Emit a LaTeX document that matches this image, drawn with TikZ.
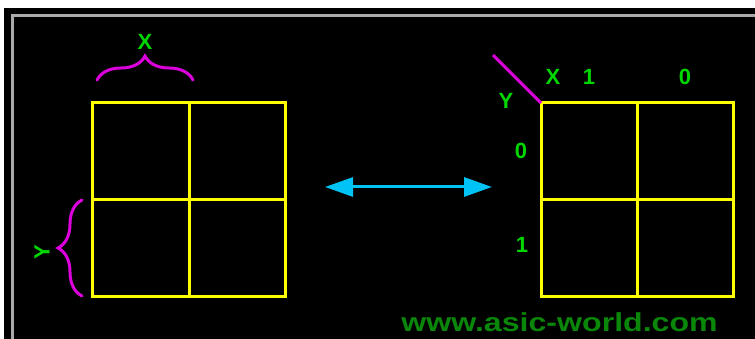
\documentclass[tikz,border=0pt]{standalone}
\usepackage{fontspec}
\setmainfont{Liberation Sans}
\usetikzlibrary{arrows.meta,decorations.pathreplacing}
\definecolor{lblgreen}{RGB}{0,215,0}
\definecolor{wmgreen}{RGB}{10,135,10}
\definecolor{kyellow}{RGB}{255,255,0}
\definecolor{kmag}{RGB}{220,0,220}
\definecolor{kcyan}{RGB}{0,195,245}
\definecolor{kgrey}{RGB}{170,170,170}
\tikzset{
  gridline/.style={draw=kyellow,line width=3pt},
  bracestyle/.style={draw=kmag,line width=3pt,line cap=round,decorate,decoration={brace,amplitude=#1}},
  lbl/.style={text=lblgreen,font=\bfseries\fontsize{22}{22}\selectfont,inner sep=0pt},
  arrowline/.style={draw=kcyan,line width=3pt,{Triangle[length=28pt,width=19pt]}-{Triangle[length=28pt,width=19pt]}}
}
\begin{document}
\begin{tikzpicture}[x=1pt,y=-1pt]
\useasboundingbox (0,0) rectangle (755,339);
\fill[white] (0,0) rectangle (755,339);
\fill[black] (4,8) rectangle (755,339);
\draw[kgrey,line width=3pt] (12,339) -- (12,16) -- (755,16);
% left K-map
\draw[gridline] (92,103) rectangle (285,296);
\draw[gridline] (189,103) -- (189,296);
\draw[gridline] (92,200) -- (285,200);
\draw[bracestyle=24pt] (97,80) -- (193,80);
\node[lbl] (xl) at (145,42) {X};
\draw[bracestyle=24pt] (82,296) -- (82,200);
\node[lbl,rotate=90] (yl) at (42,252) {Y};
% arrow
\coordinate (al) at (325,187);
\coordinate (ar) at (492,187);
\draw[arrowline] (al) -- (ar);
% right K-map
\draw[gridline] (541,103) rectangle (733,296);
\draw[gridline] (637,103) -- (637,296);
\draw[gridline] (541,200) -- (733,200);
\coordinate (dg1) at (493,55);
\coordinate (dg2) at (541,103);
\draw[kmag,line width=3pt] (dg1) -- (dg2);
\node[lbl] (xr) at (553,77) {X};
\node[lbl] (x1) at (589,77) {1};
\node[lbl] (x0) at (685,77) {0};
\node[lbl] (yr) at (506,101) {Y};
\node[lbl] (y0) at (521,151) {0};
\node[lbl] (y1) at (522,245) {1};
\node[text=wmgreen,font=\bfseries\fontsize{26}{26}\selectfont,inner sep=0pt,xscale=1.235,anchor=base] (wm) at (559.5,331) {www.asic-world.com};
\end{tikzpicture}
\end{document}
